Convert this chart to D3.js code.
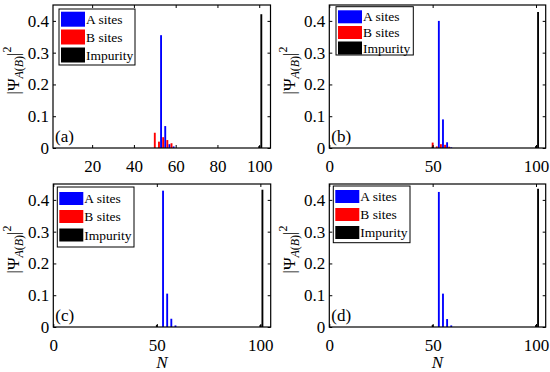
<!DOCTYPE html>
<html>
<head>
<meta charset="utf-8">
<script src="https://cdn.jsdelivr.net/npm/d3@7"></script>
<style>
body { margin: 0; background: #fff; }
svg, svg text { font-family: "Liberation Serif", "DejaVu Serif", serif !important; fill: #000; }
</style>
</head>
<body>
<div id="chart"></div>
<script>
// values, as [site N, |psi|^2]
var seriesNames = ["A sites", "B sites", "Impurity"];
var seriesColors = ["#0000ff", "#ff0000", "#000000"];
var panelTags = ["(a)", "(b)", "(c)", "(d)"];

var aSitesA = [[53, 0.355], [55, 0.069], [57, 0.012], [59, 0.005]];
var bSitesA = [[50, 0.048], [52, 0.02], [54, 0.034], [56, 0.025], [58, 0.015]];
var impurityA = [[100, 0.006], [101, 0.421]];

var aSitesB = [[53, 0.40], [55, 0.09], [57, 0.018], [59, 0.002]];
var bSitesB = [[50, 0.017], [52, 0.005], [54, 0.012], [56, 0.01], [58, 0.004]];
var impurityB = [[50, 0.004], [100, 0.006], [101, 0.428]];

var aSitesC = [[53, 0.429], [55, 0.105], [57, 0.026], [59, 0.005]];
var bSitesC = [];
var impurityC = [[50, 0.006], [100, 0.006], [101, 0.432]];

var aSitesD = [[53, 0.425], [55, 0.105], [57, 0.025], [59, 0.005]];
var bSitesD = [];
var impurityD = [[50, 0.006], [100, 0.006], [101, 0.435]];

var yTicks = [0, 0.1, 0.2, 0.3, 0.4];
var xTicksFirst = [20, 40, 60, 80, 100];
var xTicksOther = [0, 50, 100];

var W = 550, H = 372;
var FONT = "'Liberation Serif', 'DejaVu Serif', serif";
var svg = d3.select("#chart").append("svg")
    .attr("width", W)
    .attr("height", H)
    .attr("font-family", FONT);

// panel boxes (pixels) and legend placement
var panels = [
    { left: 53, top: 5, right: 270.5, bottom: 148, xdom: [1.26, 105.4], ticks: xTicksFirst,
      data: [aSitesA, bSitesA, impurityA],
      leg: { x: 59, y: 9, w: 76, h: 56, rows: [19.2, 37, 55], sh: 15 }, xlabel: false },
    { left: 329.3, top: 5, right: 545.7, bottom: 148, xdom: [0, 104.7], ticks: xTicksOther,
      data: [aSitesB, bSitesB, impurityB],
      leg: { x: 336, y: 6.7, w: 77.3, h: 48.3, rows: [16.8, 32.5, 48], sh: 13 }, xlabel: false },
    { left: 53.3, top: 184, right: 270.7, bottom: 327, xdom: [0, 105], ticks: xTicksOther,
      data: [aSitesC, bSitesC, impurityC],
      leg: { x: 57.3, y: 187, w: 76.7, h: 60, rows: [198.5, 216.5, 235], sh: 13 }, xlabel: true },
    { left: 329.3, top: 184, right: 545.7, bottom: 327, xdom: [0, 104.7], ticks: xTicksOther,
      data: [aSitesD, bSitesD, impurityD],
      leg: { x: 333.3, y: 186, w: 76.7, h: 56.7, rows: [196.5, 214.5, 232.5], sh: 13 }, xlabel: true }
];

var barWidth = 0.9; // in N units

panels.forEach(function(p, i) {
    var g = svg.append("g");

    var x = d3.scaleLinear().domain(p.xdom).range([p.left, p.right]);
    var y = d3.scaleLinear().domain([0, 0.45]).range([p.bottom, p.top]);

    // bars
    p.data.forEach(function(series, s) {
        g.selectAll(".bar" + s)
            .data(series)
            .enter()
            .append("rect")
            .attr("x", function(d) { return x(d[0] - barWidth / 2); })
            .attr("y", function(d) { return y(d[1]); })
            .attr("width", function(d) { return x(d[0] + barWidth / 2) - x(d[0] - barWidth / 2); })
            .attr("height", function(d) { return y(0) - y(d[1]); })
            .attr("fill", seriesColors[s]);
    });

    // axes, ticks pointing inwards
    var bottomAxis = g.append("g")
        .attr("transform", "translate(0," + p.bottom + ")")
        .call(d3.axisBottom(x).tickValues(p.ticks).tickSizeInner(-3).tickSizeOuter(0).tickPadding(12));
    var topAxis = g.append("g")
        .attr("transform", "translate(0," + p.top + ")")
        .call(d3.axisTop(x).tickValues(p.ticks).tickSizeInner(-3).tickSizeOuter(0).tickFormat(""));
    var leftAxis = g.append("g")
        .attr("transform", "translate(" + p.left + ",0)")
        .call(d3.axisLeft(y).tickValues(yTicks).tickSizeInner(-3).tickSizeOuter(0).tickPadding(4)
            .tickFormat(function(d) { return d === 0 ? "0" : d3.format(".1f")(d); }));
    var rightAxis = g.append("g")
        .attr("transform", "translate(" + p.right + ",0)")
        .call(d3.axisRight(y).tickValues(yTicks).tickSizeInner(-3).tickSizeOuter(0).tickFormat(""));

    [bottomAxis, topAxis, leftAxis, rightAxis].forEach(function(a) {
        a.attr("font-family", FONT);
        a.select(".domain").remove();
        a.selectAll("line").attr("stroke", "#000").attr("stroke-width", 1);
        a.selectAll("text").attr("font-size", 17).attr("fill", "#000");
    });

    // frame
    g.append("rect")
        .attr("x", p.left)
        .attr("y", p.top)
        .attr("width", p.right - p.left)
        .attr("height", p.bottom - p.top)
        .attr("fill", "none")
        .attr("stroke", "#000")
        .attr("stroke-width", 1.2);

    // panel tag
    g.append("text")
        .attr("x", p.left + 2)
        .attr("y", p.bottom - 6.5)
        .attr("font-size", 17)
        .text(panelTags[i]);

    // legend
    var L = p.leg;
    var lg = g.append("g");
    lg.append("rect")
        .attr("x", L.x).attr("y", L.y)
        .attr("width", L.w).attr("height", L.h)
        .attr("fill", "#fff")
        .attr("stroke", "#000")
        .attr("stroke-width", 1);
    seriesNames.forEach(function(name, s) {
        lg.append("rect")
            .attr("x", L.x + 2)
            .attr("y", L.rows[s] - L.sh / 2)
            .attr("width", 24)
            .attr("height", L.sh)
            .attr("fill", seriesColors[s]);
        lg.append("text")
            .attr("x", L.x + 27)
            .attr("y", L.rows[s] + 4.5)
            .attr("font-size", 13.5)
            .text(name);
    });

    // y label |Psi_A(B)|^2
    var cy = (p.top + p.bottom) / 2 - 6;
    var yl = g.append("text")
        .attr("transform", "translate(" + (p.left - 34) + "," + cy + ") rotate(-90)")
        .attr("text-anchor", "middle")
        .attr("font-size", 17);
    yl.append("tspan").text("|\u03A8");
    yl.append("tspan").attr("dy", 4).attr("font-size", 12).attr("font-style", "italic").text("A");
    yl.append("tspan").attr("font-size", 12).text("(");
    yl.append("tspan").attr("font-size", 12).attr("font-style", "italic").text("B");
    yl.append("tspan").attr("font-size", 12).text(")");
    yl.append("tspan").attr("dy", -4).text("|");
    yl.append("tspan").attr("dy", -8).attr("font-size", 12).text("2");

    // x label
    if (p.xlabel) {
        g.append("text")
            .attr("x", (p.left + p.right) / 2)
            .attr("y", 368)
            .attr("text-anchor", "middle")
            .attr("font-size", 17)
            .attr("font-style", "italic")
            .text("N");
    }
});
</script>
</body>
</html>
